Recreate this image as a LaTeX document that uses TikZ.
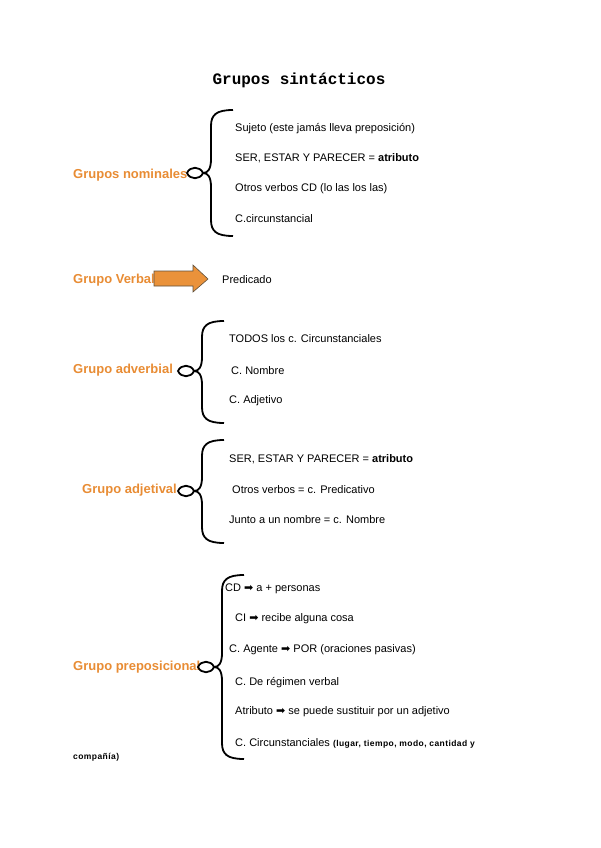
\documentclass[tikz,border=0pt]{standalone}
\usepackage{fontspec}
\setmainfont{Liberation Sans}
\newfontfamily\titlefont{Liberation Mono}
\newfontfamily\symfont{DejaVu Sans}
\usepackage{xcolor}
\definecolor{grporange}{RGB}{232,140,52}
\definecolor{flechaorange}{RGB}{234,146,58}
\definecolor{flechaborde}{RGB}{95,80,60}

\tikzset{
  grupo/.style={font=\fontsize{13}{15}\selectfont\bfseries,text=grporange,anchor=west,inner sep=0pt},
  item/.style={font=\fontsize{11}{13}\selectfont,anchor=west,inner sep=0pt},
  llave/.style={line width=1.8pt,black},
  flecha/.style={draw=flechaborde,fill=flechaorange,line width=0.6pt,line join=miter},
}

% brace with small loop at its tip: x of the stem, top, middle, bottom
\newcommand{\grupollave}[4]{%
  \draw[llave] ({#1+22},#2) .. controls ({#1+5},#2) and (#1,{#2+5}) .. (#1,{#2+16})
    -- (#1,{#3-14}) .. controls (#1,{#3-4}) and ({#1-3},#3) .. ({#1-8},#3)
    .. controls ({#1-11},{#3-7}) and ({#1-21},{#3-7}) .. ({#1-24},#3)
    .. controls ({#1-21},{#3+7}) and ({#1-11},{#3+7}) .. ({#1-8},#3)
    .. controls ({#1-3},#3) and (#1,{#3+4}) .. (#1,{#3+14})
    -- (#1,{#4-16}) .. controls (#1,{#4-5}) and ({#1+5},#4) .. ({#1+22},#4);
}

\begin{document}
\begin{tikzpicture}[x=1pt,y=-1pt]
  \useasboundingbox (0,0) rectangle (600,848);

  % Title
  \node[font=\titlefont\bfseries\fontsize{16}{18}\selectfont] (titulo) at (299,80) {Grupos sintácticos};

  % Grupos nominales
  \node[grupo] (gnom) at (73,175) {Grupos nominales};
  \grupollave{211}{110}{173}{236}
  \node[item] (nom1) at (235,129) {Sujeto (este jamás lleva preposición)};
  \node[item] (nom2) at (235,158) {SER, ESTAR Y PARECER = \textbf{atributo}};
  \node[item] (nom3) at (235,189) {Otros verbos CD (lo las los las)};
  \node[item] (nom4) at (235,219) {C.circunstancial};

  % Grupo verbal
  \node[grupo] (gverb) at (73,280) {Grupo Verbal};
  \draw[flecha] (154,271) -- (193,271) -- (193,265) -- (208,279)
    -- (193,292) -- (193,286) -- (154,286) -- cycle;
  \node[item] (pred) at (222,280) {Predicado};

  % Grupo adverbial
  \node[grupo] (gadv) at (73,370) {Grupo adverbial};
  \grupollave{202}{321}{371}{423}
  \node[item] (adv1) at (229,339) {TODOS los c. Circunstanciales};
  \node[item] (adv2) at (231,371) {C. Nombre};
  \node[item] (adv3) at (229,401) {C. Adjetivo};

  % Grupo adjetival
  \node[grupo] (gadj) at (82,490) {Grupo adjetival};
  \grupollave{202}{440}{491}{543}
  \node[item] (adj1) at (229,459) {SER, ESTAR Y PARECER = \textbf{atributo}};
  \node[item] (adj2) at (232,490) {Otros verbos = c. Predicativo};
  \node[item] (adj3) at (229,520) {Junto a un nombre = c. Nombre};

  % Grupo preposicional
  \node[grupo] (gprep) at (73,667) {Grupo preposicional};
  \grupollave{222}{575}{667}{759}
  \node[item] (prep1) at (225,589) {CD {\symfont ➡} a + personas};
  \node[item] (prep2) at (235,619) {CI {\symfont ➡} recibe alguna cosa};
  \node[item] (prep3) at (229,650) {C. Agente {\symfont ➡} POR (oraciones pasivas)};
  \node[item] (prep4) at (235,683) {C. De régimen verbal};
  \node[item] (prep5) at (235,712) {Atributo {\symfont ➡} se puede sustituir por un adjetivo};
  \node[item] (prep6) at (235,743) {C. Circunstanciales {\fontsize{8.5}{10}\selectfont\bfseries\addfontfeature{LetterSpace=5}(lugar, tiempo, modo, cantidad y}};
  \node[item,font=\fontsize{8.5}{10}\selectfont\bfseries\addfontfeature{LetterSpace=5}] (prep7) at (73,757) {compañía)};
\end{tikzpicture}
\end{document}
